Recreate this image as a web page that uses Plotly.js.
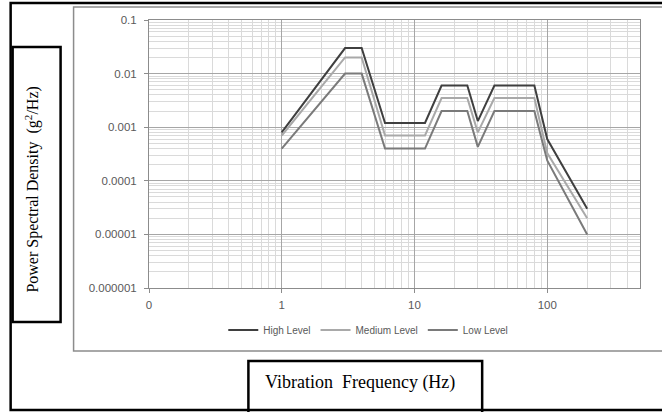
<!DOCTYPE html>
<html>
<head>
<meta charset="utf-8">
<script src="https://cdn.plot.ly/plotly-3.0.1.min.js"></script>
<style>
  html, body { margin: 0; padding: 0; background: #ffffff; }
  #chart { width: 662px; height: 412px; }
</style>
</head>
<body>
<div id="chart"></div>
<script>
// Breakpoint frequencies (Hz) of the vibration profiles
const frequency = [1, 3, 4, 6, 12, 16, 25, 30, 40, 80, 100, 200];

// Power spectral density (g^2/Hz) at each breakpoint
const highLevel   = [0.0008, 0.03, 0.03, 0.0012, 0.0012, 0.006, 0.006, 0.0013, 0.006, 0.006, 0.0006, 0.00003];
const mediumLevel = [0.0007, 0.02, 0.02, 0.0007, 0.0007, 0.0035, 0.0035, 0.0008, 0.0035, 0.0035, 0.00033, 0.00002];
const lowLevel    = [0.0004, 0.01, 0.01, 0.0004, 0.0004, 0.002, 0.002, 0.00043, 0.002, 0.002, 0.00024, 0.00001];

const seriesNames = ['High Level', 'Medium Level', 'Low Level'];

// Axis ticks
const xTickVals = [0.1, 1, 10, 100];
const xTickText = ['0', '1', '10', '100'];
const yTickVals = [0.000001, 0.00001, 0.0001, 0.001, 0.01, 0.1];
const yTickText = ['0.000001', '0.00001', '0.0001', '0.001', '0.01', '0.1'];

// Minor log gridlines (2..9 of each decade)
function minorLogTicks(fromExp, toExp) {
  const out = [];
  for (let e = fromExp; e <= toExp; e++) {
    for (let d = 2; d <= 9; d++) out.push(d * Math.pow(10, e));
  }
  return out;
}

// Page geometry (pixels)
const W = 662, H = 412;
const M = { l: 148.5, r: 22, t: 20, b: 124 };
const plotW = W - M.l - M.r, plotH = H - M.t - M.b;
const px = x => (x - M.l) / plotW;
const py = y => (H - M.b - y) / plotH;

function box(x0, y0, x1, y1, color, width) {
  return {
    type: 'rect', xref: 'paper', yref: 'paper',
    x0: px(x0), x1: px(x1), y0: py(y1), y1: py(y0),
    line: { color: color, width: width }, fillcolor: 'rgba(0,0,0,0)', layer: 'above'
  };
}

const colors = ['#3f3f3f', '#a9a9a9', '#7a7a7a'];
const data = [highLevel, mediumLevel, lowLevel].map((vals, i) => ({
  x: frequency, y: vals, type: 'scatter', mode: 'lines',
  name: seriesNames[i],
  line: { color: colors[i], width: 2 }
}));

const tickFont = { family: 'Liberation Sans, Arial, sans-serif', size: 11.5, color: '#595959' };

const layout = {
  width: W, height: H,
  margin: M,
  paper_bgcolor: '#ffffff', plot_bgcolor: '#ffffff',
  showlegend: true,
  legend: {
    orientation: 'h', x: px(368), y: py(330), xanchor: 'center', yanchor: 'middle',
    font: { family: 'Liberation Sans, Arial, sans-serif', size: 10, color: '#595959' },
    bgcolor: 'rgba(0,0,0,0)', itemwidth: 30
  },
  xaxis: {
    type: 'log', range: [-1, Math.log10(500)],
    tickmode: 'array', tickvals: xTickVals, ticktext: xTickText,
    tickfont: tickFont, ticks: 'outside', ticklen: 4, tickcolor: '#8c8c8c',
    ticklabelstandoff: 2,
    showgrid: true, gridcolor: '#a6a6a6', gridwidth: 1,
    minor: { tickvals: minorLogTicks(-1, 2), showgrid: true, gridcolor: '#dadada', gridwidth: 1, ticks: '' },
    showline: true, linecolor: '#8c8c8c', linewidth: 1, mirror: true,
    zeroline: false, fixedrange: true
  },
  yaxis: {
    type: 'log', range: [-6, -1],
    tickmode: 'array', tickvals: yTickVals, ticktext: yTickText,
    tickfont: tickFont, ticks: 'outside', ticklen: 4, tickcolor: '#8c8c8c',
    ticklabelstandoff: 5,
    showgrid: true, gridcolor: '#a6a6a6', gridwidth: 1,
    minor: { tickvals: minorLogTicks(-6, -2), showgrid: true, gridcolor: '#dadada', gridwidth: 1, ticks: '' },
    showline: true, linecolor: '#8c8c8c', linewidth: 1, mirror: true,
    zeroline: false, fixedrange: true
  },
  shapes: [
    box(10, 3, 668, 410, '#000000', 2.5),     // outer frame
    box(73, 7, 668, 351, '#8c8c8c', 1.5),     // chart area
    box(12, 47, 60, 322, '#000000', 2.5),     // y title box
    box(248, 361, 482, 414, '#000000', 2.5)   // x title box
  ],
  annotations: [
    {
      xref: 'paper', yref: 'paper', x: px(32), y: py(190),
      text: 'Power Spectral Density  (g<sup>2</sup>/Hz)', textangle: -90,
      showarrow: false, xanchor: 'center', yanchor: 'middle',
      font: { family: 'Liberation Serif, Times New Roman, serif', size: 16, color: '#000000' }
    },
    {
      xref: 'paper', yref: 'paper', x: px(360), y: py(382),
      text: 'Vibration  Frequency (Hz)',
      showarrow: false, xanchor: 'center', yanchor: 'middle',
      font: { family: 'Liberation Serif, Times New Roman, serif', size: 18, color: '#000000' }
    }
  ]
};

Plotly.newPlot('chart', data, layout, { staticPlot: true, displayModeBar: false });
</script>
</body>
</html>
